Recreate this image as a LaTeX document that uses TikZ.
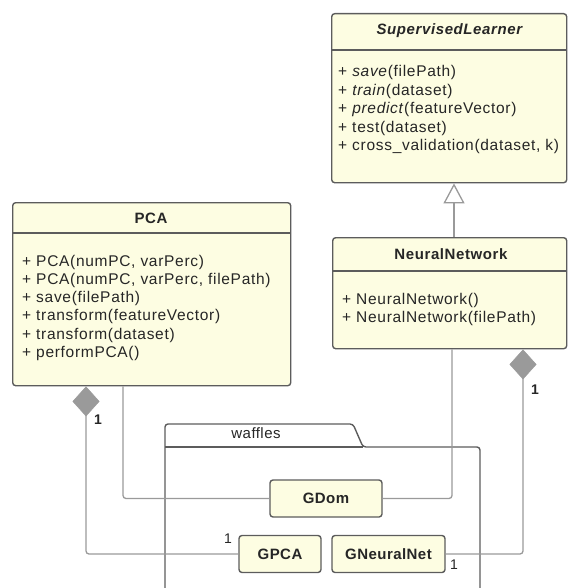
\documentclass[tikz,border=0pt]{standalone}
\usepackage{fontspec}
\setmainfont{Liberation Sans}
\usetikzlibrary{arrows.meta,calc}
\definecolor{boxfill}{HTML}{FDFDE2}
\definecolor{boxline}{HTML}{5C5C5C}
\definecolor{wirecol}{HTML}{9A9A9A}
\definecolor{ink}{HTML}{262626}
\tikzset{aggr/.tip={Diamond[length=30pt, width=27pt, fill=wirecol, line width=0.5pt]}}

\begin{document}
\begin{tikzpicture}[x=1pt,y=-1pt,
  cls/.style={draw=boxline, fill=boxfill, line width=1.4pt, rounded corners=3pt,
    anchor=north west, inner sep=0pt},
  small/.style={draw=boxline, fill=boxfill, line width=1.4pt, rounded corners=3pt,
    inner sep=0pt, minimum height=37pt, text=ink,
    font=\fontsize{15}{18}\selectfont\bfseries\addfontfeature{LetterSpace=3}},
  sep/.style={draw=boxline, line width=1.1pt},
  member/.style={anchor=west, inner sep=0pt, text=ink,
    font=\fontsize{15.5}{18}\selectfont\addfontfeature{LetterSpace=4.5}},
  title/.style={inner sep=0pt, text=ink,
    font=\fontsize{15}{18}\selectfont\bfseries\addfontfeature{LetterSpace=4}},
  wire/.style={draw=wirecol, line width=1.3pt, rounded corners=3pt},
  mult/.style={inner sep=0pt, text=ink, font=\fontsize{14}{16}\selectfont},
  pkg/.style={draw=boxline, line width=1.4pt, rounded corners=3pt}
]
\useasboundingbox (0,0) rectangle (568,588);

% class boxes
\node[cls, minimum width=235pt, minimum height=169pt] (sl) at (331,13) {};
\node[cls, minimum width=278pt, minimum height=183pt] (pca) at (12,202) {};
\node[cls, minimum width=234pt, minimum height=111pt] (nn) at (332,237) {};

% compartments
\draw[sep] ($(sl.north west)+(0,37)$) -- ($(sl.north east)+(0,37)$);
\draw[sep] ($(pca.north west)+(0,31)$) -- ($(pca.north east)+(0,31)$);
\draw[sep] ($(nn.north west)+(0,34)$) -- ($(nn.north east)+(0,34)$);

% titles
\node[title] (slname) at (450,31) {\textit{SupervisedLearner}};
\node[title] (pcaname) at (151,218) {PCA};
\node[title] (nnname) at (451,254) {NeuralNetwork};

% operations
\foreach \t [count=\i] in {{+ \textit{save}(filePath)}, {+ \textit{train}(dataset)},
    {+ \textit{predict}(featureVector)}, {+ test(dataset)},
    {+ cross\_validation(dataset, k)}}
  \node[member] (slop\i) at (338,{72.5+18.5*(\i-1)}) {\t};

\foreach \t [count=\i] in {{+ PCA(numPC, varPerc)}, {+ PCA(numPC, varPerc, filePath)},
    {+ save(filePath)}, {+ transform(featureVector)}, {+ transform(dataset)},
    {+ performPCA()}}
  \node[member] (pcaop\i) at (22,{262+18.3*(\i-1)}) {\t};

\node[member] (nnop1) at (342,300) {+ NeuralNetwork()};
\node[member] (nnop2) at (342,318.5) {+ NeuralNetwork(filePath)};

% package waffles
\draw[pkg] (165,600) -- (165,424) -- (353,424) -- (363,447) -- (480,447) -- (480,600);
\draw[pkg] (165,447) -- (363,447);
\node[mult, font=\fontsize{15}{18}\selectfont\addfontfeature{LetterSpace=3}] (pkgname) at (256,433) {waffles};

% classes inside the package
\node[small, minimum width=112pt] (gdom) at (326,498.5) {GDom};
\node[small, minimum width=82pt] (gpca) at (280,554) {GPCA};
\node[small, minimum width=113pt] (gnn) at (388.5,554) {GNeuralNet};

% relations
\draw[wire, -{Triangle[length=20pt, width=21pt, fill=white]}]
  ($(nn.north west)+(122,0)$) -- ($(sl.south west)+(123,0)$);
\draw[wire] ($(nn.south west)+(120,0)$) |- (gdom.east);
\draw[wire] ($(pca.south west)+(111,0)$) |- (gdom.west);
\draw[wire, {aggr}-] ($(nn.south west)+(191,0)$) |- (gnn.east);
\draw[wire, {aggr}-] ($(pca.south west)+(74,0)$) |- (gpca.west);

% multiplicities
\node[mult, font=\fontsize{14}{16}\selectfont\bfseries] (m1) at (535,390) {1};
\node[mult, font=\fontsize{14}{16}\selectfont\bfseries] (m2) at (98,420) {1};
\node[mult] (m3) at (228,539) {1};
\node[mult] (m4) at (454,565) {1};
\end{tikzpicture}
\end{document}
